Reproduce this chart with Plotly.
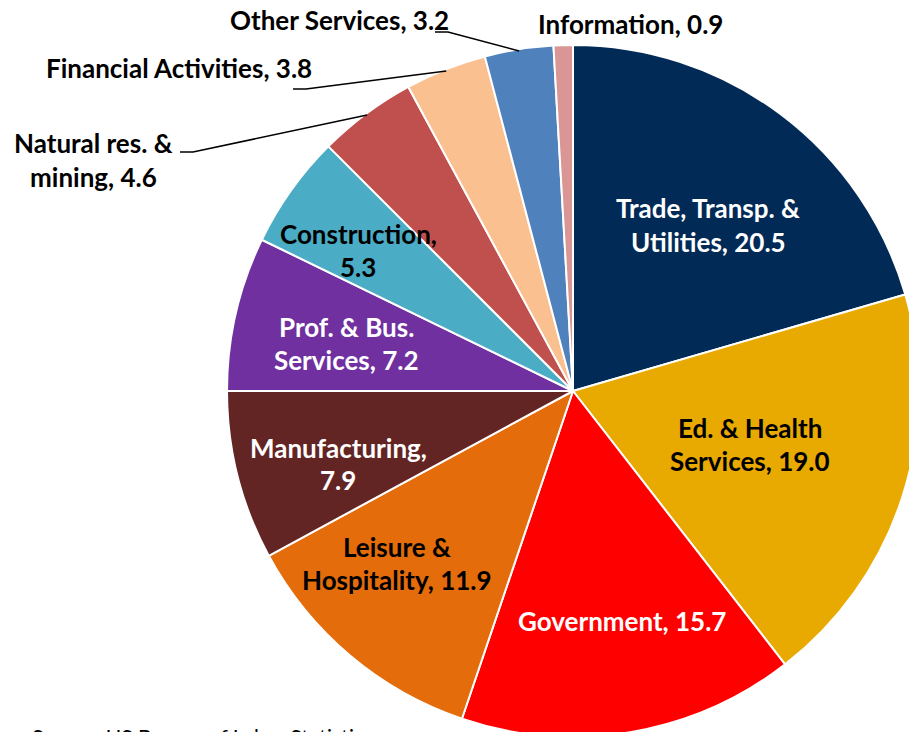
import math
import plotly.graph_objects as go

# ---- data ----
sectors = [
    "Trade, Transp. & Utilities",
    "Ed. & Health Services",
    "Government",
    "Leisure & Hospitality",
    "Manufacturing",
    "Prof. & Bus. Services",
    "Construction",
    "Natural res. & mining",
    "Financial Activities",
    "Other Services",
    "Information",
]
shares = [20.5, 19.0, 15.7, 11.9, 7.9, 7.2, 5.3, 4.6, 3.8, 3.2, 0.9]
label_lines = [
    ["Trade, Transp. &", "Utilities, 20.5"],
    ["Ed. & Health", "Services, 19.0"],
    ["Government, 15.7"],
    ["Leisure &", "Hospitality, 11.9"],
    ["Manufacturing,", "7.9"],
    ["Prof. & Bus.", "Services, 7.2"],
    ["Construction,", "5.3"],
    ["Natural res. &", "mining, 4.6"],
    ["Financial Activities, 3.8"],
    ["Other Services, 3.2"],
    ["Information, 0.9"],
]
colors = ["#022A56", "#E8A900", "#FF0000", "#E46C0A", "#632523", "#7030A0",
          "#4BACC6", "#C0504D", "#FAC090", "#4F81BD", "#D99694"]
text_colors = ["white", "black", "white", "black", "white", "white",
               "black", "black", "black", "black", "black"]
source_note = "Source: US Bureau of Labor Statistics"

# ---- layout (pixels, window coordinates) ----
W, H = 930, 745                      # figure larger than the window; page clips it
pie_cx, pie_cy, pie_r = 573, 391, 346

dom_x = [(pie_cx - pie_r) / W, (pie_cx + pie_r) / W]
dom_y = [1 - (pie_cy + pie_r) / H, 1 - (pie_cy - pie_r) / H]

label_pos = [
    (708, 225), (750, 444), (622, 621), (397, 563), (338, 464),
    (346, 343), (358, 250), (93, 160), (179, 68), (339, 20), (630, 24),
]
leader_start = {7: (180, 152), 8: (293, 89), 9: (435, 32)}
line_gap = 33
FONT = "Lato"
FS = 26

fig = go.Figure(go.Pie(
    labels=sectors, values=shares, sort=False, direction="clockwise",
    rotation=0, marker=dict(colors=colors, line=dict(color="white", width=2)),
    textinfo="none", hoverinfo="label+value", showlegend=False,
    domain=dict(x=dom_x, y=dom_y),
))

def px2paper(x, y):
    return x / W, 1 - y / H

annotations = []
for i, lines in enumerate(label_lines):
    lx, ly = label_pos[i]
    n = len(lines)
    for k, line in enumerate(lines):
        yy = ly + (k - (n - 1) / 2) * line_gap
        px, py = px2paper(lx, yy)
        annotations.append(dict(
            x=px, y=py, xref="paper", yref="paper", text=line, showarrow=False,
            xanchor="center", yanchor="middle",
            font=dict(family=FONT, size=FS, color=text_colors[i], weight="bold"),
        ))

shapes = []
total = sum(shares)
cum = 0.0
for i, v in enumerate(shares):
    mid = (cum + v / 2) / total * 2 * math.pi
    cum += v
    if i in leader_start:
        ex = pie_cx + pie_r * 0.995 * math.sin(mid)
        ey = pie_cy - pie_r * 0.995 * math.cos(mid)
        sx, sy = leader_start[i]
        p0 = px2paper(sx, sy)
        p1 = px2paper(sx + 13, sy)
        p2 = px2paper(ex, ey)
        shapes.append(dict(type="path", xref="paper", yref="paper",
                           path=f"M {p0[0]} {p0[1]} L {p1[0]} {p1[1]} L {p2[0]} {p2[1]}",
                           line=dict(color="black", width=1.5)))

sx, sy = px2paper(30, 736)
annotations.append(dict(x=sx, y=sy, xref="paper", yref="paper", text=source_note,
                        showarrow=False, xanchor="left", yanchor="middle",
                        font=dict(family=FONT, size=21, color="black")))

fig.update_layout(
    width=W, height=H, margin=dict(l=0, r=0, t=0, b=0),
    paper_bgcolor="white", plot_bgcolor="white",
    annotations=annotations, shapes=shapes,
)

page_js = ("document.body.style.margin='0';"
           "document.body.style.overflow='hidden';"
           "document.documentElement.style.overflow='hidden';")
fig.write_html("out.html", config={"displayModeBar": False}, post_script=page_js)
